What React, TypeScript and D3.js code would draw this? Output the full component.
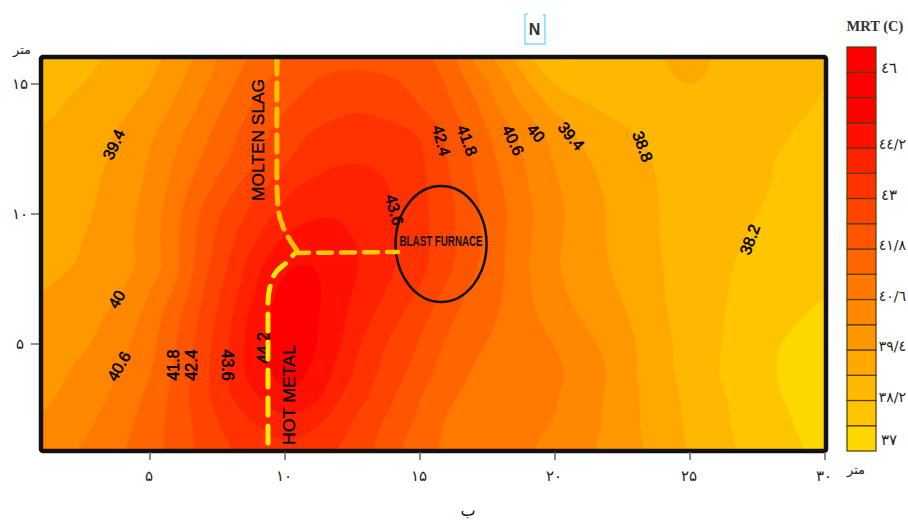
import React from "react";
import * as d3 from "d3";

// Measured MRT (C), one row per metre of y from 16 down to 1; columns are x = 1..30
const row16 = [38.3,38.5,38.75,38.95,39.25,39.6,40.3,40.9,41.4,41.85,42.05,42.15,42.15,42.1,42.0,41.55,40.5,39.8,38.95,38.15,38.2,38.4,38.6,38.8,38.95,38.75,38.6,38.5,38.4,38.3];
const row15 = [38.55,38.7,38.9,39.15,39.35,39.9,40.5,41.1,41.7,42.05,42.45,42.7,42.7,42.5,42.2,41.8,41.0,40.25,39.45,38.75,38.4,38.35,38.5,38.7,38.85,38.7,38.55,38.45,38.35,38.2];
const row14 = [38.6,38.9,39.1,39.3,39.65,40.15,40.8,41.4,42.0,42.4,42.65,42.9,42.95,42.75,42.45,41.95,41.4,40.5,39.95,39.35,39.0,38.7,38.6,38.55,38.5,38.45,38.4,38.35,38.25,38.15];
const row13 = [38.95,39.1,39.25,39.5,39.9,40.5,41.05,41.7,42.2,42.7,43.1,43.3,43.4,43.3,43.05,42.3,41.6,40.95,40.35,39.8,39.3,39.05,38.8,38.65,38.55,38.5,38.4,38.3,38.15,38.05];
const row12 = [39.1,39.2,39.3,39.55,40.05,40.7,41.3,41.85,42.45,42.95,43.3,43.55,43.55,43.4,43.15,42.4,41.75,41.1,40.5,39.95,39.5,39.2,38.95,38.7,38.6,38.5,38.35,38.22,38.05,37.95];
const row11 = [39.2,39.25,39.35,39.7,40.15,40.85,41.6,42.3,42.8,43.45,43.8,44.0,43.95,43.55,43.15,42.55,41.85,41.25,40.6,40.1,39.65,39.3,39.0,38.75,38.6,38.45,38.35,38.2,38.0,37.9];
const row10 = [39.2,39.3,39.4,39.75,40.25,41.05,42.0,42.65,43.3,43.8,44.1,44.15,43.95,43.65,43.2,42.6,41.95,41.35,40.7,40.15,39.75,39.35,39.05,38.75,38.55,38.45,38.3,38.1,37.95,37.85];
const row9 = [39.25,39.35,39.45,39.8,40.3,41.1,42.1,42.9,43.6,44.35,44.6,44.4,44.05,43.65,43.2,42.6,41.95,41.3,40.65,40.1,39.7,39.35,39.05,38.75,38.55,38.4,38.2,38.0,37.9,37.8];
const row8 = [39.2,39.35,39.55,39.8,40.2,41.05,42.2,43.1,44.15,44.75,44.85,44.5,44.1,43.65,43.2,42.6,41.9,41.3,40.6,40.05,39.7,39.4,39.1,38.8,38.55,38.35,38.1,37.95,37.85,37.75];
const row7 = [39.4,39.6,39.8,39.95,40.6,41.3,42.45,43.3,44.3,45.05,45.0,44.45,43.95,43.45,42.95,42.25,41.6,41.25,40.65,40.15,39.8,39.5,39.2,38.8,38.55,38.3,38.05,37.9,37.75,37.65];
const row6 = [39.5,39.7,39.9,40.25,40.85,41.7,42.6,43.55,44.65,45.05,44.95,44.35,43.75,43.15,42.6,41.9,41.5,41.15,40.75,40.35,39.95,39.65,39.3,38.85,38.55,38.25,38.05,37.85,37.65,37.45];
const row5 = [39.55,39.75,40.05,40.45,41.0,41.8,42.75,43.65,44.75,45.05,44.95,44.3,43.4,42.85,42.35,41.7,41.3,41.05,40.85,40.6,40.2,39.85,39.4,38.95,38.55,38.25,37.95,37.7,37.4,37.2];
const row4 = [39.65,40.0,40.3,40.65,41.1,41.95,42.8,43.75,44.7,45.0,44.8,44.0,43.25,42.7,42.15,41.5,41.15,40.95,40.85,40.7,40.45,39.95,39.4,38.95,38.55,38.2,37.95,37.65,37.35,37.2];
const row3 = [39.85,40.15,40.45,40.8,41.35,42.05,42.85,43.6,44.2,44.8,44.55,43.65,43.05,42.45,41.8,41.3,41.05,40.85,40.75,40.65,40.35,39.9,39.45,39.05,38.65,38.3,38.0,37.7,37.45,37.25];
const row2 = [40.1,40.25,40.6,41.0,41.5,42.05,42.65,43.25,43.65,44.0,43.75,43.25,42.7,42.2,41.65,41.1,40.9,40.8,40.7,40.6,40.25,39.9,39.45,39.05,38.7,38.35,38.05,37.8,37.55,37.3];
const row1 = [40.25,40.5,40.8,41.15,41.55,42.05,42.6,43.0,43.3,43.5,43.35,43.0,42.55,42.0,41.4,41.1,40.95,40.8,40.65,40.45,40.15,39.85,39.5,39.1,38.75,38.4,38.1,37.85,37.65,37.4];
const rows = [row16,row15,row14,row13,row12,row11,row10,row9,row8,row7,row6,row5,row4,row3,row2,row1];

const levels = [37,37.6,38.2,38.8,39.4,40,40.6,41.2,41.8,42.4,43,43.6,44.2,44.8,45.4,46];
const levelColors = ["#FFD700","#FFC500","#FFB800","#FFA800","#FF9800","#FF8800","#FF7800","#FF6600","#FF5400","#FF4400","#FF3200","#FF2200","#FF1000","#FF0000","#FF0000","#FF0000"];

const xTicks = [5,10,15,20,25,30];
const xTickLabels = ["۵","۱۰","۱۵","۲۰","۲۵","۳۰"];
const yTicks = [15,10,5];
const yTickLabels = ["۱۵","۱۰","۵"];
const legendLabels = [["٣٧",37],["٣٨/٢",38.2],["٣٩/٤",39.4],["٤٠/٦",40.6],["٤١/٨",41.8],["٤٣",43],["٤٤/٢",44.2],["٤٦",46]] as [string,number][];

const contourLabels = [
  {t:"39.4",x:3.70,y:12.65,r:-65},{t:"40",x:3.81,y:6.69,r:-60},{t:"40.6",x:3.89,y:4.12,r:-60},
  {t:"41.8",x:5.93,y:4.19,r:-90},{t:"42.4",x:6.59,y:4.19,r:-90},{t:"43.6",x:7.81,y:4.19,r:90},
  {t:"44.2",x:9.26,y:4.85,r:-90},{t:"43.6",x:14.0,y:10.15,r:75},{t:"42.4",x:15.74,y:12.81,r:75},
  {t:"41.8",x:16.7,y:12.81,r:70},{t:"40.6",x:18.4,y:12.81,r:65},{t:"40",x:19.26,y:13.08,r:50},
  {t:"39.4",x:20.56,y:12.96,r:50},{t:"38.8",x:23.2,y:12.58,r:70},{t:"38.2",x:27.26,y:9.0,r:-70},
];

const moltenX = [9.70,9.70,9.74,9.93,10.3,10.48]; const moltenY = [16.04,11.3,10.27,9.5,8.81,8.54];
const branchX = [10.37,14.19]; const branchY = [8.5,8.54];
const hotX = [9.37,9.37,9.44,9.74,10.07,10.3]; const hotY = [1.19,6.58,7.19,7.85,8.15,8.42];
const furnace = {x:15.78,y:8.85,rx:1.685,ry:2.23};

const W = 908, H = 520;
const x = d3.scaleLinear().domain([1,30]).range([42,825]);
const y = d3.scaleLinear().domain([5,15]).range([344,84]);
const nx = rows[0].length, ny = rows.length;

// Resample the measured grid only so that the drawn bands are smooth.
const FACTOR = 5;
function catmull(v:number[],t:number){
  const n = v.length-1, s = Math.min(t*n,n-1e-9), i = Math.floor(s), u = s-i;
  const p0 = v[Math.max(i-1,0)], p1 = v[i], p2 = v[i+1], p3 = v[Math.min(i+2,n)];
  return 0.5*(2*p1+(p2-p0)*u+(2*p0-5*p1+4*p2-p3)*u*u+(3*p1-p0-3*p2+p3)*u*u*u);
}
function smooth1d(v:number[],count:number){
  const basis = d3.interpolateBasis(v);
  return d3.range(count).map(i=>{ const t = i/(count-1); return 0.4*catmull(v,t)+0.6*basis(t); });
}
function resample(){
  const fx = (nx-1)*FACTOR+1, fy = (ny-1)*FACTOR+1;
  const byRow = rows.map(r=>smooth1d(r,fx));
  const out = new Array(fx*fy);
  for(let i=0;i<fx;i++){
    const col = smooth1d(byRow.map(r=>r[i]),fy);
    for(let j=0;j<fy;j++) out[j*fx+i] = col[j];
  }
  return {fx,fy,out};
}

export default function App() {
  const {fx,fy,out} = resample();
  const contours = d3.contours().size([fx,fy]).thresholds(levels.slice(1,14))(out);
  const projection = d3.geoTransform({
    point(px:number,py:number){ (this as any).stream.point(x(1+(px-0.5)/FACTOR), y(16-(py-0.5)/FACTOR)); }
  });
  const path = d3.geoPath(projection);
  const line = d3.line<[number,number]>().x(d=>x(d[0])).y(d=>y(d[1])).curve(d3.curveMonotoneY);
  const straight = d3.line<[number,number]>().x(d=>x(d[0])).y(d=>y(d[1]));
  const zip = (a:number[],b:number[]) => a.map((v,i)=>[v,b[i]] as [number,number]);

  const plotL = 40, plotR = 826, plotT = 56, plotB = 451;
  const legendY = d3.scaleBand<number>().domain([...levels].reverse()).range([47,451]);
  const legendLabelY = d3.scaleLinear().domain([37,38.2,46]).range([445,402,73]);
  const tickFont = "'DejaVu Sans', sans-serif";
  const sans = "'Liberation Sans', Arial, sans-serif";

  return (
    <svg width={W} height={H} viewBox={`0 0 ${W} ${H}`} style={{position:"absolute",left:0,top:0,background:"#fff"}}>
      <defs><clipPath id="plot"><rect x={plotL} y={plotT} width={plotR-plotL} height={plotB-plotT}/></clipPath></defs>
      <g clipPath="url(#plot)">
        <rect x={plotL} y={plotT} width={plotR-plotL} height={plotB-plotT} fill={levelColors[0]}/>
        {contours.map((c,i)=>(
          <path key={i} d={path(c as any) ?? ""} fill={levelColors[i+1]} stroke={levelColors[i+1]} strokeWidth={0.3}/>
        ))}
      </g>
      {contourLabels.map((l,i)=>(
        <text key={i} transform={`translate(${x(l.x)},${y(l.y)}) rotate(${l.r})`} textAnchor="middle" dominantBaseline="middle"
          fontFamily={sans} fontSize={16} fontWeight={400} stroke="#000" strokeWidth={0.55} fill="#000">{l.t}</text>
      ))}
      <ellipse cx={x(furnace.x)} cy={y(furnace.y)} rx={x(furnace.x+furnace.rx)-x(furnace.x)} ry={y(furnace.y-furnace.ry)-y(furnace.y)} fill="none" stroke="#111" strokeWidth={2.5}/>
      <text transform={`translate(${x(15.78)},${y(8.92)})`} textAnchor="middle" dominantBaseline="middle" fontFamily={sans} fontSize={15} fontWeight={700} textLength={83} lengthAdjust="spacingAndGlyphs" fill="#111">BLAST FURNACE</text>
      <text transform={`translate(${x(9.07)},${y(12.85)}) rotate(-90)`} textAnchor="middle" dominantBaseline="middle" fontFamily={sans} fontSize={16} textLength={122} lengthAdjust="spacingAndGlyphs" fill="#000" stroke="#000" strokeWidth={0.3}>MOLTEN SLAG</text>
      <text transform={`translate(${x(10.22)},${y(3.04)}) rotate(-90)`} textAnchor="middle" dominantBaseline="middle" fontFamily={sans} fontSize={16} textLength={100} lengthAdjust="spacingAndGlyphs" fill="#000" stroke="#000" strokeWidth={0.3}>HOT METAL</text>
      <path d={line(zip(moltenX,moltenY)) ?? ""} fill="none" stroke="#FFC000" strokeWidth={5} strokeDasharray="17 9" strokeLinecap="round"/>
      <path d={straight(zip(branchX,branchY)) ?? ""} fill="none" stroke="#FFC800" strokeWidth={4.5} strokeDasharray="14 9" strokeLinecap="round"/>
      <path d={line(zip(hotX,hotY)) ?? ""} fill="none" stroke="#FFE800" strokeWidth={5} strokeDasharray="17 11" strokeLinecap="round"/>
      <rect x={41} y={57} width={785} height={394} rx={2} fill="none" stroke="#111" strokeWidth={4.5}/>
      {xTicks.map((t,i)=>(
        <g key={t}>
          <line x1={x(t)} x2={x(t)} y1={452} y2={460} stroke="#666" strokeWidth={1.5}/>
          <text x={x(t)-1} y={481} textAnchor="middle" fontFamily={tickFont} fontSize={15} fill="#222">{xTickLabels[i]}</text>
        </g>
      ))}
      {yTicks.map((t,i)=>(
        <g key={t}>
          <line x1={31} x2={39} y1={y(t)} y2={y(t)} stroke="#666" strokeWidth={1.5}/>
          <text x={20} y={y(t)+5} textAnchor="middle" fontFamily={tickFont} fontSize={15} fill="#222">{yTickLabels[i]}</text>
        </g>
      ))}
      <text x={22} y={54} textAnchor="middle" fontFamily={tickFont} fontSize={13} fill="#222">متر</text>
      <text x={856} y={474} textAnchor="middle" fontFamily={tickFont} fontSize={13} fill="#222">متر</text>
      <path d="M525 14 H528 M525 14 V44 H545 V15 H543" fill="none" stroke="#7FDBFF" strokeWidth={1.5}/>
      <text x={534.5} y={35} textAnchor="middle" fontFamily={sans} fontSize={16} fontWeight={700} fill="#333">N</text>
      <text x={468} y={516} textAnchor="middle" fontFamily={tickFont} fontSize={16} fill="#111">ب</text>
      <text x={875} y={31} textAnchor="middle" fontFamily="'Liberation Serif', serif" fontSize={14.5} fontWeight={700} fill="#333">MRT (C)</text>
      {levels.map((v,i)=>(
        <rect key={v} x={847} y={legendY(v)!} width={29} height={legendY.bandwidth()} fill={levelColors[i]} stroke="#5a3a00" strokeWidth={1.2}/>
      ))}
      {legendLabels.map(([s,v])=>(
        <text key={v} x={s.length<3?881:906} y={legendLabelY(v)} textAnchor={s.length<3?"start":"end"} fontFamily={tickFont} fontSize={s.length<3?15:14} fill="#222">{s}</text>
      ))}
    </svg>
  );
}
